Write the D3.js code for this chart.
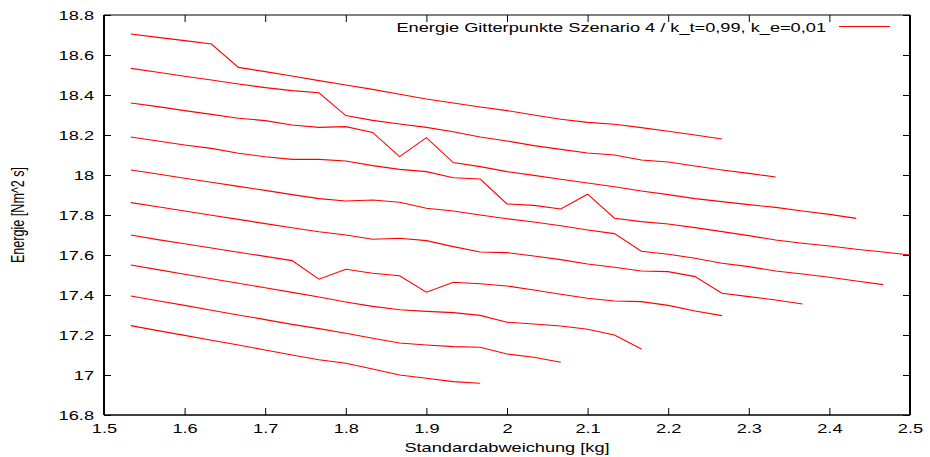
<!DOCTYPE html>
<html>
<head>
<meta charset="utf-8">
<script src="https://cdn.jsdelivr.net/npm/d3@7"></script>
<style>
  html, body { margin: 0; padding: 0; background: #fff; }
  svg { display: block; }
  text { font-family: "Liberation Sans", Arial, Helvetica, sans-serif; fill: #000; }
</style>
</head>
<body>
<svg id="chart" width="930" height="457"></svg>
<script>
// Standard deviation grid [kg] shared by all runs (each run uses the first n entries)
const sigmaGrid = [1.5333, 1.5667, 1.6, 1.6333, 1.6667, 1.7, 1.7333, 1.7667, 1.8, 1.8333,
                   1.8667, 1.9, 1.9333, 1.9667, 2.0, 2.0333, 2.0667, 2.1, 2.1333, 2.1667,
                   2.2, 2.2333, 2.2667, 2.3, 2.3333, 2.3667, 2.4, 2.4333, 2.4667, 2.5];

// Energy [Nm^2 s] of the grid points, one array per grid row
const energyRow1 = [18.705, 18.688, 18.672, 18.655, 18.538, 18.517, 18.495, 18.472, 18.45, 18.428,
                    18.404, 18.38, 18.36, 18.34, 18.322, 18.300, 18.279, 18.263, 18.254, 18.237,
                    18.219, 18.2, 18.18];
const energyRow2 = [18.533, 18.514, 18.494, 18.475, 18.455, 18.437, 18.422, 18.411, 18.297, 18.273,
                    18.255, 18.238, 18.216, 18.19, 18.17, 18.147, 18.128, 18.11, 18.1, 18.075,
                    18.065, 18.045, 18.025, 18.008, 17.99];
const energyRow3 = [18.36, 18.342, 18.322, 18.303, 18.284, 18.272, 18.25, 18.238, 18.242, 18.213,
                    18.092, 18.187, 18.062, 18.042, 18.017, 17.998, 17.979, 17.96, 17.941, 17.92,
                    17.902, 17.882, 17.867, 17.852, 17.838, 17.82, 17.803, 17.783];
const energyRow4 = [18.19, 18.17, 18.15, 18.133, 18.109, 18.091, 18.078, 18.078, 18.07, 18.047,
                    18.028, 18.017, 17.986, 17.98, 17.855, 17.848, 17.83, 17.904, 17.784, 17.767,
                    17.755, 17.737, 17.717, 17.697, 17.675, 17.659, 17.645, 17.629, 17.615, 17.6];
const energyRow5 = [18.025, 18.005, 17.984, 17.964, 17.943, 17.923, 17.902, 17.882, 17.87, 17.875,
                    17.864, 17.834, 17.82, 17.8, 17.781, 17.765, 17.746, 17.725, 17.707, 17.619,
                    17.604, 17.584, 17.559, 17.542, 17.52, 17.505, 17.489, 17.47, 17.452];
const energyRow6 = [17.862, 17.841, 17.82, 17.799, 17.778, 17.757, 17.736, 17.716, 17.70, 17.679,
                    17.684, 17.672, 17.642, 17.615, 17.612, 17.595, 17.577, 17.555, 17.539, 17.52,
                    17.517, 17.492, 17.409, 17.392, 17.375, 17.355];
const energyRow7 = [17.70, 17.677, 17.656, 17.635, 17.614, 17.593, 17.572, 17.479, 17.529, 17.509,
                    17.496, 17.414, 17.464, 17.456, 17.445, 17.425, 17.404, 17.384, 17.37, 17.367,
                    17.348, 17.32, 17.297];
const energyRow8 = [17.55, 17.527, 17.504, 17.481, 17.459, 17.436, 17.413, 17.39, 17.365, 17.343,
                    17.326, 17.318, 17.312, 17.298, 17.264, 17.255, 17.245, 17.229, 17.20, 17.13];
const energyRow9 = [17.395, 17.371, 17.348, 17.324, 17.30, 17.277, 17.253, 17.232, 17.209, 17.184,
                    17.16, 17.15, 17.142, 17.139, 17.105, 17.089, 17.064];
const energyRow10 = [17.247, 17.222, 17.198, 17.174, 17.15, 17.125, 17.10, 17.076, 17.059, 17.03,
                     17.0, 16.984, 16.967, 16.959];

const energyRows = [energyRow1, energyRow2, energyRow3, energyRow4, energyRow5,
                    energyRow6, energyRow7, energyRow8, energyRow9, energyRow10];

const xTicks = [1.5, 1.6, 1.7, 1.8, 1.9, 2.0, 2.1, 2.2, 2.3, 2.4, 2.5];
const yTicks = [16.8, 17.0, 17.2, 17.4, 17.6, 17.8, 18.0, 18.2, 18.4, 18.6, 18.8];

const xTitle = "Standardabweichung [kg]";
const yTitle = "Energie [Nm^2 s]";
const legendLabel = "Energie Gitterpunkte Szenario 4 / k_t=0,99, k_e=0,01";

// Layout
const W = 930, H = 457;
const m = { left: 104, right: 20, top: 15, bottom: 42 };
const fontSize = 13;
const stretch = 1.4;   // wide terminal font

const svg = d3.select("#chart");

const x = d3.scaleLinear().domain([1.5, 2.5]).range([m.left, W - m.right]);
const y = d3.scaleLinear().domain([16.8, 18.8]).range([H - m.bottom, m.top]);

const fmt = d => d3.format("")(+d.toFixed(1));

function stretchText(sel) {
  sel.each(function () {
    const t = d3.select(this);
    const tx = +t.attr("x") || 0;
    t.attr("x", 0).attr("transform", `translate(${tx},0) scale(${stretch},1)`);
  });
}

// Bottom axis with labels, ticks pointing inward
const gx = svg.append("g")
  .attr("transform", `translate(0,${H - m.bottom})`)
  .call(d3.axisBottom(x).tickValues(xTicks).tickFormat(fmt).tickSize(-7).tickSizeOuter(0).tickPadding(9));
// Left axis with labels
const gy = svg.append("g")
  .attr("transform", `translate(${m.left},0)`)
  .call(d3.axisLeft(y).tickValues(yTicks).tickFormat(fmt).tickSize(-7).tickSizeOuter(0).tickPadding(10));
// Mirrored ticks on top and right
const gxTop = svg.append("g")
  .attr("transform", `translate(0,${m.top})`)
  .call(d3.axisTop(x).tickValues(xTicks).tickFormat("").tickSize(-7).tickSizeOuter(0));
const gyRight = svg.append("g")
  .attr("transform", `translate(${W - m.right},0)`)
  .call(d3.axisRight(y).tickValues(yTicks).tickFormat("").tickSize(-7).tickSizeOuter(0));

[gx, gy, gxTop, gyRight].forEach(g => {
  g.select(".domain").remove();
  g.selectAll(".tick line").attr("stroke", "#000").attr("stroke-width", 1);
  g.selectAll("text").attr("font-size", fontSize).attr("fill", "#000")
    .style("font-family", '"Liberation Sans", Arial, sans-serif');
});
gx.selectAll(".tick text").call(stretchText);
gy.selectAll(".tick text").call(stretchText);

// Frame
const x0 = m.left, x1 = W - m.right, y0 = m.top, y1 = H - m.bottom;
svg.append("line").attr("x1", x0).attr("x2", x1).attr("y1", y0).attr("y2", y0)
  .attr("stroke", "#000").attr("stroke-width", 1.2);
svg.append("line").attr("x1", x0).attr("x2", x1).attr("y1", y1).attr("y2", y1)
  .attr("stroke", "#000").attr("stroke-width", 1.6);
svg.append("line").attr("x1", x0).attr("x2", x0).attr("y1", y0).attr("y2", y1)
  .attr("stroke", "#000").attr("stroke-width", 2);
svg.append("line").attr("x1", x1).attr("x2", x1).attr("y1", y0).attr("y2", y1)
  .attr("stroke", "#000").attr("stroke-width", 2);

// Energy curves
const line = d3.line()
  .x((d, i) => x(sigmaGrid[i]))
  .y(d => y(d));

svg.append("g")
  .selectAll("path")
  .data(energyRows)
  .join("path")
  .attr("d", line)
  .attr("fill", "none")
  .attr("stroke", "#ff0000")
  .attr("stroke-width", 1.1)
  .attr("stroke-linejoin", "miter");

// Axis titles
svg.append("text")
  .attr("text-anchor", "middle")
  .attr("font-size", fontSize)
  .attr("transform", `translate(${(x0 + x1) / 2},${451.5}) scale(${stretch},1)`)
  .text(xTitle);

svg.append("text")
  .attr("text-anchor", "middle")
  .attr("font-size", fontSize)
  .attr("transform", `translate(23.5,${(y0 + y1) / 2}) rotate(-90) scale(0.97,${stretch})`)
  .text(yTitle);

// Legend
svg.append("text")
  .attr("text-anchor", "end")
  .attr("font-size", fontSize)
  .attr("transform", `translate(826,31.5) scale(${stretch},1)`)
  .text(legendLabel);
svg.append("line")
  .attr("x1", 839).attr("x2", 890).attr("y1", 26.5).attr("y2", 26.5)
  .attr("stroke", "#ff0000").attr("stroke-width", 1.1);
</script>
</body>
</html>
